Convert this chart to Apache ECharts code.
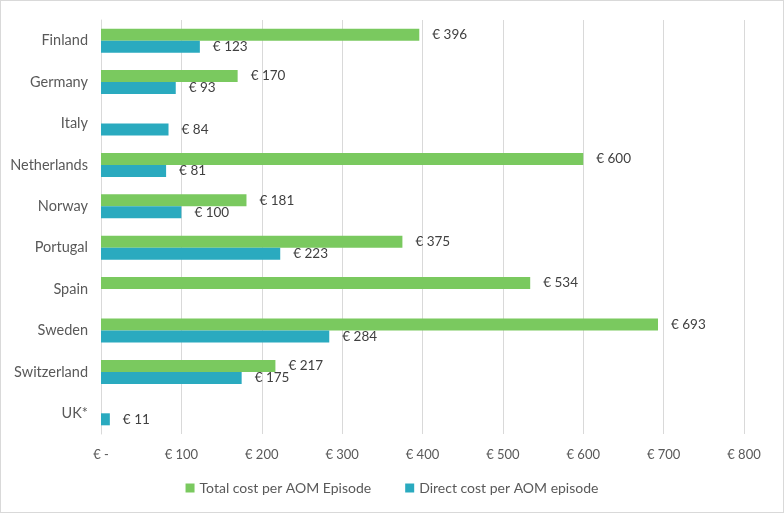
<!DOCTYPE html>
<html><head><meta charset="utf-8">
<script src="https://cdn.jsdelivr.net/npm/echarts@6/dist/echarts.min.js"></script>
<style>html,body{margin:0;padding:0;background:#fff}#c{width:784px;height:513px;box-sizing:border-box;border:1px solid #d9d9d9}</style>
</head><body><div id="c"></div>
<script>
const categories = ["Finland","Germany","Italy","Netherlands","Norway","Portugal","Spain","Sweden","Switzerland","UK*"];
const totalCost = [396,170,null,600,181,375,534,693,217,null];
const directCost = [123,93,84,81,100,223,null,284,175,11];
const xTicks = [0,100,200,300,400,500,600,700,800];
const seriesNames = ["Total cost per AOM Episode","Direct cost per AOM episode"];

const font = "Lato, 'Open Sans', sans-serif";
const chart = echarts.init(document.getElementById('c'));
const lbl = {show:true, position:'right', distance:13, color:'#404040', fontSize:13.5, fontFamily:font,
  formatter: p => '€ ' + p.value};
chart.setOption({
  animation:false,
  textStyle:{fontFamily:font},
  grid:{left:100,right:39,top:19,bottom:78,containLabel:false},
  legend:{bottom:12,left:'center',itemWidth:9,itemHeight:9,itemGap:34,icon:'rect',
    textStyle:{color:'#595959',fontSize:14,fontFamily:font},data:seriesNames},
  xAxis:{type:'value',min:xTicks[0],max:xTicks[xTicks.length-1],interval:100,
    axisLine:{show:false},axisTick:{show:false},
    splitLine:{show:true,lineStyle:{color:'#d9d9d9',width:1}},
    axisLabel:{color:'#595959',fontSize:13,margin:14,fontFamily:font,
      formatter:v=> v===0?'€ -':'€ '+v}},
  yAxis:{type:'category',data:categories,inverse:true,
    axisLine:{show:true,lineStyle:{color:'#d9d9d9'}},axisTick:{show:false},
    axisLabel:{color:'#595959',fontSize:14.5,margin:13,fontFamily:font}},
  series:[
    {name:seriesNames[0],type:'bar',data:totalCost,itemStyle:{color:'#7ac95f'},barGap:'0%',barCategoryGap:'42%',label:lbl},
    {name:seriesNames[1],type:'bar',data:directCost,itemStyle:{color:'#2aaabf'},barGap:'0%',barCategoryGap:'42%',label:lbl}
  ]
});
</script></body></html>
